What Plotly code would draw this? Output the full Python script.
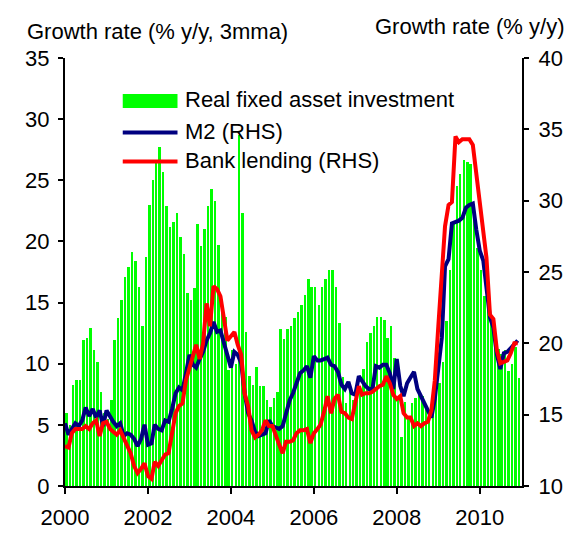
import pandas as pd
import plotly.graph_objects as go

# ---------------- data (monthly, Jan 2000 - Dec 2010) ----------------
start_month = "2000-01-01"
n_months = 132

fai = [
    6.0, 5.0, 8.3, 8.7, 8.7, 11.9, 12.1, 12.9, 11.1, 10.1, 7.7, 6.0,      # 2000
    5.5, 7.0, 11.9, 13.7, 15.2, 17.1, 17.9, 19.1, 18.4, 16.3, 13.1, 18.7,  # 2001
    23.0, 25.0, 26.4, 27.7, 25.7, 22.9, 21.2, 21.6, 22.3, 20.4, 19.0, 15.8,  # 2002
    15.2, 16.2, 21.4, 19.6, 21.0, 22.9, 24.3, 23.3, 19.7, 15.0, 13.8, 9.5,   # 2003
    11.1, 10.0, 28.7, 22.3, 12.6, 9.0, 8.3, 9.7, 8.2, 8.2, 7.0, 6.5,         # 2004
    7.2, 7.7, 12.8, 12.0, 12.8, 13.1, 13.7, 14.2, 14.8, 15.6, 16.9, 16.3,    # 2005
    16.3, 14.8, 16.3, 16.9, 17.7, 17.7, 16.3, 13.3, 8.9, 6.8, 8.2, 7.0,      # 2006
    7.5, 8.2, 9.6, 11.8, 12.5, 13.1, 13.8, 13.8, 13.6, 12.1, 13.1, 10.5,     # 2007
    7.3, 4.0, 6.9, 5.6, 6.8, 7.2, 7.6, 7.4, 6.6, 6.0, 7.2, 7.3,              # 2008
    8.4, 10.1, 13.5, 17.7, 21.5, 24.5, 25.5, 26.7, 26.5, 26.3, 23.0, 19.5,   # 2009
    17.7, 15.5, 15.1, 13.6, 13.1, 11.2, 10.8, 11.1, 9.4, 10.0, 11.4, 8.8,    # 2010
]

m2 = [
    14.4, 13.6, 14.0, 14.4, 14.2, 14.6, 15.5, 14.9, 15.4, 14.8, 15.3, 14.2,  # 2000
    15.3, 14.8, 14.5, 14.2, 14.4, 13.5, 13.7, 13.6, 13.3, 12.8, 13.3, 14.3,  # 2001
    12.9, 13.0, 14.3, 14.0, 13.9, 14.6, 14.5, 15.4, 16.5, 16.9, 16.7, 17.9,  # 2002
    19.2, 18.5, 18.3, 18.9, 19.4, 20.2, 20.7, 21.5, 20.8, 20.9, 20.0, 19.3,  # 2003
    18.3, 19.4, 19.2, 18.6, 16.5, 15.1, 14.6, 13.8, 13.5, 13.6, 13.7, 14.6,  # 2004
    14.2, 14.1, 14.0, 14.2, 15.1, 16.0, 16.5, 17.2, 17.9, 18.1, 18.4, 17.6,  # 2005
    19.1, 18.8, 18.8, 18.9, 19.0, 18.5, 18.4, 18.0, 17.1, 16.8, 17.3, 16.5,  # 2006
    16.4, 17.7, 17.4, 17.0, 16.8, 16.8, 18.4, 18.3, 18.5, 18.5, 17.9, 16.8,  # 2007
    18.9, 17.0, 16.3, 17.2, 17.6, 18.0, 16.8, 16.3, 15.8, 15.2, 14.8, 16.1,  # 2008
    18.0, 20.4, 25.4, 25.9, 28.4, 28.5, 28.6, 28.8, 29.5, 29.7, 29.8, 28.0,  # 2009
    26.5, 25.8, 24.0, 21.8, 21.1, 19.2, 18.2, 19.3, 19.4, 19.7, 20.0, 20.2,  # 2010
]

lending = [
    12.8, 12.7, 13.7, 14.0, 14.0, 14.0, 14.2, 14.0, 14.4, 14.6, 13.5, 14.4,  # 2000
    14.5, 14.0, 13.8, 13.6, 13.9, 13.3, 12.8, 12.3, 11.4, 10.9, 11.2, 11.6,  # 2001
    10.7, 10.5, 11.7, 11.4, 11.8, 12.2, 12.3, 13.7, 15.1, 15.6, 15.8, 17.4,  # 2002
    18.3, 19.0, 19.9, 18.9, 20.0, 22.8, 21.2, 24.0, 23.8, 23.3, 21.8, 20.2,  # 2003
    20.5, 20.8, 19.9, 19.2, 16.5, 15.6, 13.9, 13.4, 13.6, 13.9, 14.6, 14.2,  # 2004
    14.2, 13.4, 12.9, 12.3, 13.1, 13.1, 13.2, 13.7, 13.9, 13.9, 14.0, 13.0,  # 2005
    13.7, 14.0, 14.3, 15.2, 16.3, 15.1, 16.1, 16.4, 15.2, 15.1, 14.8, 14.7,  # 2006
    15.9, 17.0, 16.4, 16.5, 16.5, 16.6, 16.8, 17.0, 17.1, 17.7, 17.2, 16.4,  # 2007
    16.1, 16.3, 15.1, 14.8, 14.8, 14.2, 14.4, 14.2, 14.4, 14.5, 15.3, 17.4,  # 2008
    21.2, 24.7, 28.2, 29.7, 29.9, 34.5, 34.1, 34.3, 34.3, 34.3, 33.9, 32.0,  # 2009
    29.5, 27.8, 26.0, 22.0, 21.7, 19.5, 18.6, 18.7, 18.8, 19.3, 20.0, 20.0,  # 2010
]

tick_years = ["2000", "2002", "2004", "2006", "2008", "2010"]
series_names = ["Real fixed asset investment", "M2 (RHS)", "Bank lending (RHS)"]
left_title = "Growth rate (% y/y, 3mma)"
right_title = "Growth rate (% y/y)"

# ---------------- styling ----------------
GREEN = "#00FF00"
NAVY = "#000080"
RED = "#FF0000"
FONT = "Liberation Sans, Arial, sans-serif"
DAY_MS = 86400000

# the page body adds an 8px margin, so the figure is 8px smaller and its
# margins are shifted to keep the plot area where the reference has it
PAGE_OFF = 8
PLOT_L, PLOT_R, PLOT_T, PLOT_B = 65, 524, 58, 486   # screen pixels
FIG_W, FIG_H = 575 - PAGE_OFF, 548 - PAGE_OFF
PW, PH = PLOT_R - PLOT_L, PLOT_B - PLOT_T

months = pd.date_range(start_month, periods=n_months, freq="MS")

fig = go.Figure()
fig.add_trace(go.Bar(
    x=months, y=fai, name=series_names[0], marker=dict(color=GREEN, line=dict(width=0)),
    width=22 * DAY_MS, offset=1 * DAY_MS, yaxis="y", showlegend=False,
))
fig.add_trace(go.Scatter(
    x=months, y=m2, name=series_names[1], mode="lines",
    line=dict(color=NAVY, width=4), yaxis="y2", showlegend=False,
))
fig.add_trace(go.Scatter(
    x=months, y=lending, name=series_names[2], mode="lines",
    line=dict(color=RED, width=4), yaxis="y2", showlegend=False,
))

axis_common = dict(
    showline=True, linecolor="black", linewidth=2, mirror=False,
    ticks="outside", tickcolor="black", tickwidth=1.5, ticklen=5,
    showgrid=False, zeroline=False,
    tickfont=dict(family=FONT, size=22, color="black"),
)

fig.update_layout(
    width=FIG_W, height=FIG_H,
    margin=dict(l=PLOT_L - PAGE_OFF, r=FIG_W - (PLOT_R - PAGE_OFF),
                t=PLOT_T - PAGE_OFF, b=FIG_H - (PLOT_B - PAGE_OFF)),
    paper_bgcolor="white", plot_bgcolor="white",
    font=dict(family=FONT, size=22, color="black"),
    bargap=0,
    xaxis=dict(
        type="date", range=["2000-01-01", "2011-01-08"],
        tickvals=[f"{y}-01-01" for y in tick_years], ticktext=tick_years,
        ticklabelstandoff=5, **{**axis_common, "ticklen": 6},
    ),
    yaxis=dict(range=[0, 35], tickmode="linear", tick0=0, dtick=5,
               ticklabelstandoff=4, **axis_common),
    yaxis2=dict(range=[10, 40], tickmode="linear", tick0=10, dtick=5,
                overlaying="y", side="right", ticklabelstandoff=5, **axis_common),
)


def px_x(px):
    return (px - PLOT_L) / PW


def px_y(py):
    return (PLOT_B - py) / PH


# axis titles
fig.add_annotation(text=left_title, xref="paper", yref="paper",
                   x=px_x(25), y=px_y(31), xanchor="left", yanchor="middle",
                   showarrow=False, font=dict(family=FONT, size=22, color="black"))
fig.add_annotation(text=right_title, xref="paper", yref="paper",
                   x=px_x(568), y=px_y(26), xanchor="right", yanchor="middle",
                   showarrow=False, font=dict(family=FONT, size=22, color="black"))

# legend (drawn manually to match the swatch sizes)
fig.add_shape(type="rect", xref="paper", yref="paper",
              x0=px_x(123), x1=px_x(178), y0=px_y(108), y1=px_y(94),
              fillcolor=GREEN, line=dict(width=0))
fig.add_shape(type="line", xref="paper", yref="paper",
              x0=px_x(123), x1=px_x(178), y0=px_y(132.5), y1=px_y(132.5),
              line=dict(color=NAVY, width=4))
fig.add_shape(type="line", xref="paper", yref="paper",
              x0=px_x(123), x1=px_x(178), y0=px_y(161.5), y1=px_y(161.5),
              line=dict(color=RED, width=4))
for name, ypx in zip(series_names, [99, 132, 160]):
    fig.add_annotation(text=name, xref="paper", yref="paper",
                       x=px_x(184), y=px_y(ypx), xanchor="left", yanchor="middle",
                       showarrow=False, font=dict(family=FONT, size=22, color="black"))

fig.write_html("out.html")
